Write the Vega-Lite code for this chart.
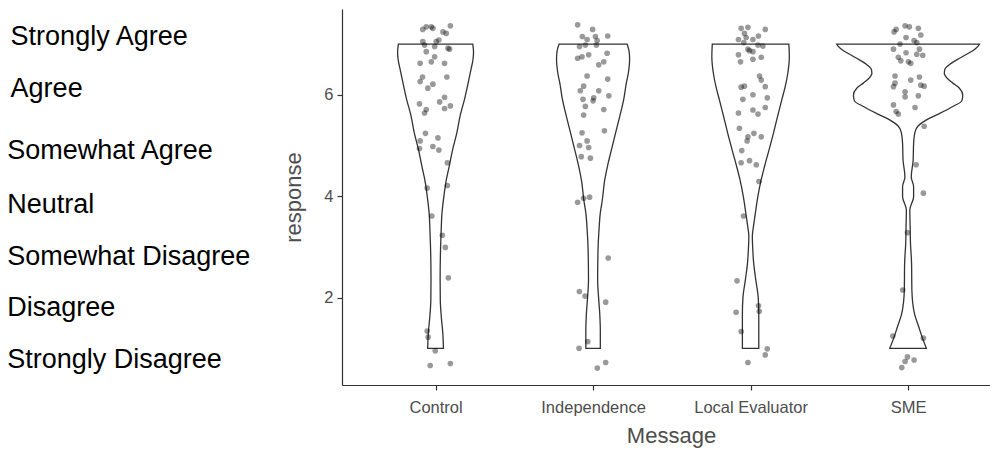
{
  "$schema": "https://vega.github.io/schema/vega-lite/v6.json",
  "width": 648,
  "height": 376,
  "autosize": {"type": "none"},
  "padding": {"left": 342, "top": 9, "right": 0, "bottom": 68},
  "background": "white",
  "config": {
    "view": {"stroke": null},
    "font": "Liberation Sans",
    "axis": {
      "grid": false,
      "domainColor": "#333333",
      "domainWidth": 1.2,
      "tickColor": "#333333",
      "tickWidth": 1.2,
      "tickSize": 5,
      "labelColor": "#4d4d4d",
      "labelFont": "Liberation Sans",
      "labelFontSize": 16.5,
      "titleColor": "#4d4d4d",
      "titleFont": "Liberation Sans",
      "titleFontSize": 22,
      "titleFontWeight": "normal"
    },
    "axisY": {"labelPadding": 4, "titlePadding": 18},
    "axisX": {"labelPadding": 9, "titlePadding": 10, "labelFlush": false}
  },
  "datasets": {
    "violin": [
      {"Message": "Control", "response": 1.0, "lo": 0.950, "hi": 1.050},
      {"Message": "Control", "response": 1.3, "lo": 0.954, "hi": 1.046},
      {"Message": "Control", "response": 1.6, "lo": 0.963, "hi": 1.037},
      {"Message": "Control", "response": 1.95, "lo": 0.970, "hi": 1.030},
      {"Message": "Control", "response": 2.35, "lo": 0.971, "hi": 1.029},
      {"Message": "Control", "response": 3.0, "lo": 0.968, "hi": 1.032},
      {"Message": "Control", "response": 3.27, "lo": 0.965, "hi": 1.035},
      {"Message": "Control", "response": 3.67, "lo": 0.959, "hi": 1.041},
      {"Message": "Control", "response": 4.0, "lo": 0.947, "hi": 1.053},
      {"Message": "Control", "response": 4.3, "lo": 0.933, "hi": 1.067},
      {"Message": "Control", "response": 4.58, "lo": 0.914, "hi": 1.086},
      {"Message": "Control", "response": 4.9, "lo": 0.893, "hi": 1.107},
      {"Message": "Control", "response": 5.25, "lo": 0.865, "hi": 1.135},
      {"Message": "Control", "response": 5.6, "lo": 0.843, "hi": 1.157},
      {"Message": "Control", "response": 5.9, "lo": 0.817, "hi": 1.183},
      {"Message": "Control", "response": 6.25, "lo": 0.792, "hi": 1.208},
      {"Message": "Control", "response": 6.5, "lo": 0.775, "hi": 1.225},
      {"Message": "Control", "response": 6.7, "lo": 0.762, "hi": 1.238},
      {"Message": "Control", "response": 6.85, "lo": 0.759, "hi": 1.241},
      {"Message": "Control", "response": 7.0, "lo": 0.764, "hi": 1.236},
      {"Message": "Independence", "response": 1.0, "lo": 1.954, "hi": 2.046},
      {"Message": "Independence", "response": 1.35, "lo": 1.954, "hi": 2.046},
      {"Message": "Independence", "response": 1.7, "lo": 1.958, "hi": 2.042},
      {"Message": "Independence", "response": 2.0, "lo": 1.965, "hi": 2.035},
      {"Message": "Independence", "response": 2.35, "lo": 1.971, "hi": 2.029},
      {"Message": "Independence", "response": 3.0, "lo": 1.968, "hi": 2.032},
      {"Message": "Independence", "response": 3.3, "lo": 1.963, "hi": 2.037},
      {"Message": "Independence", "response": 3.67, "lo": 1.954, "hi": 2.046},
      {"Message": "Independence", "response": 3.93, "lo": 1.941, "hi": 2.059},
      {"Message": "Independence", "response": 4.3, "lo": 1.927, "hi": 2.073},
      {"Message": "Independence", "response": 4.6, "lo": 1.908, "hi": 2.092},
      {"Message": "Independence", "response": 4.91, "lo": 1.884, "hi": 2.116},
      {"Message": "Independence", "response": 5.25, "lo": 1.857, "hi": 2.143},
      {"Message": "Independence", "response": 5.57, "lo": 1.831, "hi": 2.169},
      {"Message": "Independence", "response": 5.9, "lo": 1.806, "hi": 2.194},
      {"Message": "Independence", "response": 6.23, "lo": 1.789, "hi": 2.211},
      {"Message": "Independence", "response": 6.45, "lo": 1.775, "hi": 2.225},
      {"Message": "Independence", "response": 6.69, "lo": 1.768, "hi": 2.232},
      {"Message": "Independence", "response": 6.85, "lo": 1.771, "hi": 2.229},
      {"Message": "Independence", "response": 7.0, "lo": 1.784, "hi": 2.216},
      {"Message": "Local Evaluator", "response": 1.0, "lo": 2.948, "hi": 3.052},
      {"Message": "Local Evaluator", "response": 1.35, "lo": 2.948, "hi": 3.052},
      {"Message": "Local Evaluator", "response": 1.69, "lo": 2.948, "hi": 3.052},
      {"Message": "Local Evaluator", "response": 2.02, "lo": 2.952, "hi": 3.048},
      {"Message": "Local Evaluator", "response": 2.35, "lo": 2.967, "hi": 3.033},
      {"Message": "Local Evaluator", "response": 2.7, "lo": 2.981, "hi": 3.019},
      {"Message": "Local Evaluator", "response": 2.95, "lo": 2.986, "hi": 3.014},
      {"Message": "Local Evaluator", "response": 3.21, "lo": 2.989, "hi": 3.011},
      {"Message": "Local Evaluator", "response": 3.4, "lo": 2.982, "hi": 3.018},
      {"Message": "Local Evaluator", "response": 3.66, "lo": 2.970, "hi": 3.030},
      {"Message": "Local Evaluator", "response": 3.99, "lo": 2.954, "hi": 3.046},
      {"Message": "Local Evaluator", "response": 4.32, "lo": 2.933, "hi": 3.067},
      {"Message": "Local Evaluator", "response": 4.58, "lo": 2.912, "hi": 3.088},
      {"Message": "Local Evaluator", "response": 4.9, "lo": 2.884, "hi": 3.116},
      {"Message": "Local Evaluator", "response": 5.24, "lo": 2.855, "hi": 3.145},
      {"Message": "Local Evaluator", "response": 5.57, "lo": 2.829, "hi": 3.171},
      {"Message": "Local Evaluator", "response": 5.9, "lo": 2.802, "hi": 3.198},
      {"Message": "Local Evaluator", "response": 6.15, "lo": 2.781, "hi": 3.219},
      {"Message": "Local Evaluator", "response": 6.42, "lo": 2.764, "hi": 3.236},
      {"Message": "Local Evaluator", "response": 6.75, "lo": 2.754, "hi": 3.246},
      {"Message": "Local Evaluator", "response": 7.0, "lo": 2.757, "hi": 3.243},
      {"Message": "SME", "response": 1.0, "lo": 3.884, "hi": 4.116},
      {"Message": "SME", "response": 1.23, "lo": 3.912, "hi": 4.088},
      {"Message": "SME", "response": 1.43, "lo": 3.933, "hi": 4.067},
      {"Message": "SME", "response": 1.69, "lo": 3.960, "hi": 4.040},
      {"Message": "SME", "response": 2.15, "lo": 3.976, "hi": 4.024},
      {"Message": "SME", "response": 2.68, "lo": 3.978, "hi": 4.022},
      {"Message": "SME", "response": 3.08, "lo": 3.985, "hi": 4.015},
      {"Message": "SME", "response": 3.4, "lo": 3.987, "hi": 4.013},
      {"Message": "SME", "response": 3.73, "lo": 3.989, "hi": 4.011},
      {"Message": "SME", "response": 3.99, "lo": 3.965, "hi": 4.035},
      {"Message": "SME", "response": 4.19, "lo": 3.965, "hi": 4.035},
      {"Message": "SME", "response": 4.38, "lo": 3.980, "hi": 4.020},
      {"Message": "SME", "response": 4.71, "lo": 3.968, "hi": 4.032},
      {"Message": "SME", "response": 5.04, "lo": 3.965, "hi": 4.035},
      {"Message": "SME", "response": 5.27, "lo": 3.956, "hi": 4.044},
      {"Message": "SME", "response": 5.38, "lo": 3.938, "hi": 4.062},
      {"Message": "SME", "response": 5.5, "lo": 3.886, "hi": 4.114},
      {"Message": "SME", "response": 5.63, "lo": 3.801, "hi": 4.199},
      {"Message": "SME", "response": 5.77, "lo": 3.716, "hi": 4.284},
      {"Message": "SME", "response": 5.88, "lo": 3.659, "hi": 4.341},
      {"Message": "SME", "response": 5.99, "lo": 3.653, "hi": 4.347},
      {"Message": "SME", "response": 6.13, "lo": 3.674, "hi": 4.326},
      {"Message": "SME", "response": 6.23, "lo": 3.716, "hi": 4.284},
      {"Message": "SME", "response": 6.32, "lo": 3.750, "hi": 4.250},
      {"Message": "SME", "response": 6.42, "lo": 3.770, "hi": 4.230},
      {"Message": "SME", "response": 6.5, "lo": 3.767, "hi": 4.233},
      {"Message": "SME", "response": 6.62, "lo": 3.727, "hi": 4.273},
      {"Message": "SME", "response": 6.72, "lo": 3.674, "hi": 4.326},
      {"Message": "SME", "response": 6.8, "lo": 3.628, "hi": 4.372},
      {"Message": "SME", "response": 6.88, "lo": 3.585, "hi": 4.415},
      {"Message": "SME", "response": 6.95, "lo": 3.558, "hi": 4.442},
      {"Message": "SME", "response": 7.0, "lo": 3.547, "hi": 4.453}
    ],
    "points": [
      {"Message": "Control", "x": 0.919, "response": 7.29},
      {"Message": "Control", "x": 0.941, "response": 7.34},
      {"Message": "Control", "x": 0.973, "response": 7.34},
      {"Message": "Control", "x": 0.983, "response": 7.31},
      {"Message": "Control", "x": 1.047, "response": 7.24},
      {"Message": "Control", "x": 1.068, "response": 7.21},
      {"Message": "Control", "x": 1.094, "response": 7.36},
      {"Message": "Control", "x": 0.919, "response": 7.05},
      {"Message": "Control", "x": 0.930, "response": 6.98},
      {"Message": "Control", "x": 1.004, "response": 7.05},
      {"Message": "Control", "x": 1.021, "response": 7.08},
      {"Message": "Control", "x": 0.941, "response": 6.85},
      {"Message": "Control", "x": 0.994, "response": 6.95},
      {"Message": "Control", "x": 1.079, "response": 6.92},
      {"Message": "Control", "x": 1.089, "response": 6.90},
      {"Message": "Control", "x": 0.902, "response": 6.62},
      {"Message": "Control", "x": 0.973, "response": 6.65},
      {"Message": "Control", "x": 0.994, "response": 6.75},
      {"Message": "Control", "x": 1.057, "response": 6.62},
      {"Message": "Control", "x": 0.917, "response": 6.35},
      {"Message": "Control", "x": 0.902, "response": 6.26},
      {"Message": "Control", "x": 0.951, "response": 6.13},
      {"Message": "Control", "x": 0.983, "response": 6.21},
      {"Message": "Control", "x": 1.072, "response": 6.35},
      {"Message": "Control", "x": 0.898, "response": 5.82},
      {"Message": "Control", "x": 0.941, "response": 5.71},
      {"Message": "Control", "x": 0.930, "response": 5.64},
      {"Message": "Control", "x": 1.026, "response": 5.86},
      {"Message": "Control", "x": 1.057, "response": 5.95},
      {"Message": "Control", "x": 1.057, "response": 5.73},
      {"Message": "Control", "x": 1.094, "response": 5.78},
      {"Message": "Control", "x": 0.936, "response": 5.24},
      {"Message": "Control", "x": 0.902, "response": 5.09},
      {"Message": "Control", "x": 0.898, "response": 4.94},
      {"Message": "Control", "x": 1.015, "response": 5.15},
      {"Message": "Control", "x": 0.983, "response": 4.98},
      {"Message": "Control", "x": 1.021, "response": 4.91},
      {"Message": "Control", "x": 1.075, "response": 4.66},
      {"Message": "Control", "x": 0.947, "response": 4.16},
      {"Message": "Control", "x": 1.075, "response": 4.21},
      {"Message": "Control", "x": 0.976, "response": 3.61},
      {"Message": "Control", "x": 1.043, "response": 3.23},
      {"Message": "Control", "x": 1.062, "response": 2.99},
      {"Message": "Control", "x": 1.081, "response": 2.39},
      {"Message": "Control", "x": 0.947, "response": 1.34},
      {"Message": "Control", "x": 0.953, "response": 1.22},
      {"Message": "Control", "x": 0.998, "response": 0.95},
      {"Message": "Control", "x": 0.966, "response": 0.66},
      {"Message": "Control", "x": 1.094, "response": 0.70},
      {"Message": "Independence", "x": 1.902, "response": 7.38},
      {"Message": "Independence", "x": 1.997, "response": 7.29},
      {"Message": "Independence", "x": 1.932, "response": 7.15},
      {"Message": "Independence", "x": 1.962, "response": 7.09},
      {"Message": "Independence", "x": 2.015, "response": 7.15},
      {"Message": "Independence", "x": 2.026, "response": 7.07},
      {"Message": "Independence", "x": 2.093, "response": 7.16},
      {"Message": "Independence", "x": 1.914, "response": 6.95},
      {"Message": "Independence", "x": 1.951, "response": 6.98},
      {"Message": "Independence", "x": 2.021, "response": 6.98},
      {"Message": "Independence", "x": 1.902, "response": 6.72},
      {"Message": "Independence", "x": 1.930, "response": 6.75},
      {"Message": "Independence", "x": 1.972, "response": 6.79},
      {"Message": "Independence", "x": 2.036, "response": 6.59},
      {"Message": "Independence", "x": 2.068, "response": 6.65},
      {"Message": "Independence", "x": 2.089, "response": 6.82},
      {"Message": "Independence", "x": 1.962, "response": 6.37},
      {"Message": "Independence", "x": 2.093, "response": 6.31},
      {"Message": "Independence", "x": 1.940, "response": 6.17},
      {"Message": "Independence", "x": 1.919, "response": 6.08},
      {"Message": "Independence", "x": 2.036, "response": 6.08},
      {"Message": "Independence", "x": 1.936, "response": 5.91},
      {"Message": "Independence", "x": 2.004, "response": 5.94},
      {"Message": "Independence", "x": 2.100, "response": 5.98},
      {"Message": "Independence", "x": 1.951, "response": 5.77},
      {"Message": "Independence", "x": 2.000, "response": 5.88},
      {"Message": "Independence", "x": 2.068, "response": 5.71},
      {"Message": "Independence", "x": 1.940, "response": 5.60},
      {"Message": "Independence", "x": 1.930, "response": 5.25},
      {"Message": "Independence", "x": 2.072, "response": 5.29},
      {"Message": "Independence", "x": 1.962, "response": 5.09},
      {"Message": "Independence", "x": 1.914, "response": 5.00},
      {"Message": "Independence", "x": 1.972, "response": 4.96},
      {"Message": "Independence", "x": 1.925, "response": 4.78},
      {"Message": "Independence", "x": 1.983, "response": 4.75},
      {"Message": "Independence", "x": 1.940, "response": 3.96},
      {"Message": "Independence", "x": 1.978, "response": 3.98},
      {"Message": "Independence", "x": 1.902, "response": 3.88},
      {"Message": "Independence", "x": 2.096, "response": 2.78},
      {"Message": "Independence", "x": 1.913, "response": 2.12},
      {"Message": "Independence", "x": 1.949, "response": 2.03},
      {"Message": "Independence", "x": 2.080, "response": 1.91},
      {"Message": "Independence", "x": 1.966, "response": 1.13},
      {"Message": "Independence", "x": 1.911, "response": 1.00},
      {"Message": "Independence", "x": 2.080, "response": 0.72},
      {"Message": "Independence", "x": 2.027, "response": 0.61},
      {"Message": "Local Evaluator", "x": 2.940, "response": 7.31},
      {"Message": "Local Evaluator", "x": 2.983, "response": 7.33},
      {"Message": "Local Evaluator", "x": 2.961, "response": 7.21},
      {"Message": "Local Evaluator", "x": 3.093, "response": 7.29},
      {"Message": "Local Evaluator", "x": 2.923, "response": 7.09},
      {"Message": "Local Evaluator", "x": 2.972, "response": 7.13},
      {"Message": "Local Evaluator", "x": 3.015, "response": 7.09},
      {"Message": "Local Evaluator", "x": 3.050, "response": 7.16},
      {"Message": "Local Evaluator", "x": 2.957, "response": 7.03},
      {"Message": "Local Evaluator", "x": 3.047, "response": 6.98},
      {"Message": "Local Evaluator", "x": 3.078, "response": 6.96},
      {"Message": "Local Evaluator", "x": 2.993, "response": 6.87},
      {"Message": "Local Evaluator", "x": 3.015, "response": 6.85},
      {"Message": "Local Evaluator", "x": 2.983, "response": 6.90},
      {"Message": "Local Evaluator", "x": 2.923, "response": 6.79},
      {"Message": "Local Evaluator", "x": 2.936, "response": 6.65},
      {"Message": "Local Evaluator", "x": 3.015, "response": 6.70},
      {"Message": "Local Evaluator", "x": 3.068, "response": 6.74},
      {"Message": "Local Evaluator", "x": 3.057, "response": 6.37},
      {"Message": "Local Evaluator", "x": 3.068, "response": 6.29},
      {"Message": "Local Evaluator", "x": 2.940, "response": 6.15},
      {"Message": "Local Evaluator", "x": 2.961, "response": 6.17},
      {"Message": "Local Evaluator", "x": 3.093, "response": 6.16},
      {"Message": "Local Evaluator", "x": 2.951, "response": 5.91},
      {"Message": "Local Evaluator", "x": 3.015, "response": 6.00},
      {"Message": "Local Evaluator", "x": 3.106, "response": 5.94},
      {"Message": "Local Evaluator", "x": 2.923, "response": 5.64},
      {"Message": "Local Evaluator", "x": 3.015, "response": 5.70},
      {"Message": "Local Evaluator", "x": 3.047, "response": 5.62},
      {"Message": "Local Evaluator", "x": 3.093, "response": 5.75},
      {"Message": "Local Evaluator", "x": 2.929, "response": 5.34},
      {"Message": "Local Evaluator", "x": 2.983, "response": 5.17},
      {"Message": "Local Evaluator", "x": 3.021, "response": 5.24},
      {"Message": "Local Evaluator", "x": 3.068, "response": 5.17},
      {"Message": "Local Evaluator", "x": 2.978, "response": 5.09},
      {"Message": "Local Evaluator", "x": 2.944, "response": 4.90},
      {"Message": "Local Evaluator", "x": 2.940, "response": 4.66},
      {"Message": "Local Evaluator", "x": 2.993, "response": 4.70},
      {"Message": "Local Evaluator", "x": 3.036, "response": 4.62},
      {"Message": "Local Evaluator", "x": 3.053, "response": 4.29},
      {"Message": "Local Evaluator", "x": 2.955, "response": 3.61},
      {"Message": "Local Evaluator", "x": 2.914, "response": 2.33},
      {"Message": "Local Evaluator", "x": 3.050, "response": 1.84},
      {"Message": "Local Evaluator", "x": 3.055, "response": 1.73},
      {"Message": "Local Evaluator", "x": 2.908, "response": 1.71},
      {"Message": "Local Evaluator", "x": 2.940, "response": 1.33},
      {"Message": "Local Evaluator", "x": 3.106, "response": 0.99},
      {"Message": "Local Evaluator", "x": 3.093, "response": 0.87},
      {"Message": "Local Evaluator", "x": 2.983, "response": 0.72},
      {"Message": "SME", "x": 3.911, "response": 7.24},
      {"Message": "SME", "x": 3.924, "response": 7.29},
      {"Message": "SME", "x": 3.981, "response": 7.36},
      {"Message": "SME", "x": 4.008, "response": 7.34},
      {"Message": "SME", "x": 4.065, "response": 7.31},
      {"Message": "SME", "x": 3.987, "response": 7.13},
      {"Message": "SME", "x": 4.038, "response": 7.07},
      {"Message": "SME", "x": 4.081, "response": 7.18},
      {"Message": "SME", "x": 4.055, "response": 7.03},
      {"Message": "SME", "x": 3.949, "response": 7.00},
      {"Message": "SME", "x": 3.907, "response": 6.90},
      {"Message": "SME", "x": 4.072, "response": 6.90},
      {"Message": "SME", "x": 3.987, "response": 6.83},
      {"Message": "SME", "x": 4.055, "response": 6.80},
      {"Message": "SME", "x": 4.093, "response": 6.78},
      {"Message": "SME", "x": 3.938, "response": 6.74},
      {"Message": "SME", "x": 3.954, "response": 6.67},
      {"Message": "SME", "x": 4.002, "response": 6.65},
      {"Message": "SME", "x": 4.017, "response": 6.62},
      {"Message": "SME", "x": 3.917, "response": 6.37},
      {"Message": "SME", "x": 4.017, "response": 6.29},
      {"Message": "SME", "x": 4.072, "response": 6.35},
      {"Message": "SME", "x": 3.917, "response": 6.23},
      {"Message": "SME", "x": 3.907, "response": 6.16},
      {"Message": "SME", "x": 4.081, "response": 6.19},
      {"Message": "SME", "x": 4.102, "response": 6.17},
      {"Message": "SME", "x": 3.981, "response": 6.06},
      {"Message": "SME", "x": 3.981, "response": 5.96},
      {"Message": "SME", "x": 4.065, "response": 5.98},
      {"Message": "SME", "x": 3.907, "response": 5.80},
      {"Message": "SME", "x": 4.044, "response": 5.75},
      {"Message": "SME", "x": 3.924, "response": 5.67},
      {"Message": "SME", "x": 3.938, "response": 5.62},
      {"Message": "SME", "x": 4.102, "response": 5.38},
      {"Message": "SME", "x": 4.051, "response": 4.62},
      {"Message": "SME", "x": 4.097, "response": 4.06},
      {"Message": "SME", "x": 3.996, "response": 3.28},
      {"Message": "SME", "x": 3.966, "response": 2.15},
      {"Message": "SME", "x": 3.903, "response": 1.24},
      {"Message": "SME", "x": 4.097, "response": 1.20},
      {"Message": "SME", "x": 3.996, "response": 0.83},
      {"Message": "SME", "x": 4.038, "response": 0.77},
      {"Message": "SME", "x": 3.981, "response": 0.74},
      {"Message": "SME", "x": 3.960, "response": 0.62}
    ],
    "labels": [
      {"label": "Strongly Agree", "response": 6.98},
      {"label": "Agree", "response": 5.95},
      {"label": "Somewhat Agree", "response": 4.73},
      {"label": "Neutral", "response": 3.66},
      {"label": "Somewhat Disagree", "response": 2.64},
      {"label": "Disagree", "response": 1.64},
      {"label": "Strongly Disagree", "response": 0.61}
    ]
  },
  "layer": [
    {
      "data": {"name": "violin"},
      "mark": {"type": "area", "orient": "horizontal", "interpolate": "monotone", "fill": "white", "stroke": "#333333", "strokeWidth": 1.3},
      "encoding": {
        "y": {"field": "response", "type": "quantitative", "scale": {"domain": [0.276, 7.692], "nice": false, "zero": false}, "axis": {"values": [2, 4, 6], "title": "response"}},
        "x": {"field": "lo", "type": "quantitative", "scale": {"domain": [0.406, 4.52], "nice": false, "zero": false}, "axis": {"values": [1, 2, 3, 4], "title": "Message", "titleX": 329, "labelExpr": "datum.value == 1 ? 'Control' : datum.value == 2 ? 'Independence' : datum.value == 3 ? 'Local Evaluator' : 'SME'"}},
        "x2": {"field": "hi"},
        "detail": {"field": "Message"}
      }
    },
    {
      "data": {"name": "points"},
      "mark": {"type": "circle", "size": 32, "color": "black", "opacity": 0.4},
      "encoding": {
        "y": {"field": "response", "type": "quantitative", "scale": {"domain": [0.276, 7.692], "nice": false, "zero": false}, "axis": {"values": [2, 4, 6], "title": "response"}},
        "x": {"field": "x", "type": "quantitative", "scale": {"domain": [0.406, 4.52], "nice": false, "zero": false}, "axis": {"values": [1, 2, 3, 4], "title": "Message", "titleX": 329, "labelExpr": "datum.value == 1 ? 'Control' : datum.value == 2 ? 'Independence' : datum.value == 3 ? 'Local Evaluator' : 'SME'"}}
      }
    },
    {
      "data": {"name": "labels"},
      "transform": [{"filter": "datum.label == 'Strongly Agree' || datum.label == 'Agree'"}],
      "mark": {"type": "text", "align": "left", "baseline": "alphabetic", "font": "Liberation Sans", "fontSize": 27, "color": "black"},
      "encoding": {
        "y": {"field": "response", "type": "quantitative", "scale": {"domain": [0.276, 7.692], "nice": false, "zero": false}, "axis": {"values": [2, 4, 6], "title": "response"}},
        "x": {"datum": -1.698, "type": "quantitative", "scale": {"domain": [0.406, 4.52], "nice": false, "zero": false}, "axis": {"values": [1, 2, 3, 4], "title": "Message", "titleX": 329, "labelExpr": "datum.value == 1 ? 'Control' : datum.value == 2 ? 'Independence' : datum.value == 3 ? 'Local Evaluator' : 'SME'"}},
        "text": {"field": "label"}
      }
    },
    {
      "data": {"name": "labels"},
      "transform": [{"filter": "datum.label != 'Strongly Agree' && datum.label != 'Agree'"}],
      "mark": {"type": "text", "align": "left", "baseline": "alphabetic", "font": "Liberation Sans", "fontSize": 27, "color": "black"},
      "encoding": {
        "y": {"field": "response", "type": "quantitative", "scale": {"domain": [0.276, 7.692], "nice": false, "zero": false}, "axis": {"values": [2, 4, 6], "title": "response"}},
        "x": {"datum": -1.72, "type": "quantitative", "scale": {"domain": [0.406, 4.52], "nice": false, "zero": false}, "axis": {"values": [1, 2, 3, 4], "title": "Message", "titleX": 329, "labelExpr": "datum.value == 1 ? 'Control' : datum.value == 2 ? 'Independence' : datum.value == 3 ? 'Local Evaluator' : 'SME'"}},
        "text": {"field": "label"}
      }
    }
  ]
}
